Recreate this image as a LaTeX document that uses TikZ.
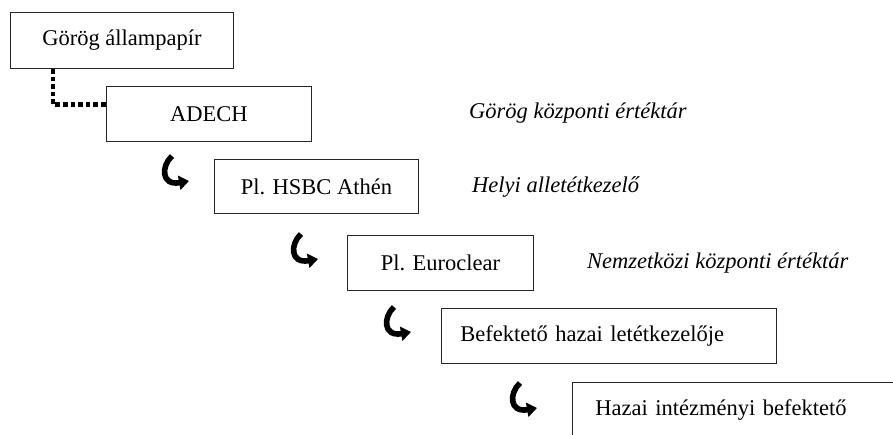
\documentclass[tikz,border=0pt]{standalone}
\usepackage{fontspec}
\setmainfont{Liberation Serif}
\usetikzlibrary{arrows.meta}
\tikzset{
  box/.style={draw=black!85, line width=0.9pt, anchor=north west, inner sep=0pt,
    font=\fontsize{22.5pt}{27pt}\selectfont},
  lbox/.style={box, align=left, inner xsep=19pt},
  lbl/.style={anchor=base west, inner sep=0pt,
    font=\fontsize{22.5pt}{27pt}\selectfont\itshape},
  dotline/.style={line width=4.6pt, dash pattern=on 4.6pt off 3pt},
  curvarrow/.pic={
    \draw[line width=5.6pt, -{Triangle[length=10pt,width=14pt]}]
      (11,1) .. controls (0,11) and (0,31) .. (28,26);
  }
}
\begin{document}
\begin{tikzpicture}[x=1pt,y=-1pt]
\useasboundingbox (0,0) rectangle (893,434);
\clip (0,0) rectangle (893,434);
\node[box, minimum width=223pt, minimum height=56pt] (g) at (10,12) {Görög állampapír};
\node[box, minimum width=205pt, minimum height=55pt] (adech) at (106,86) {ADECH};
\node[box, minimum width=204pt, minimum height=54pt] (hsbc) at (214,159) {Pl. HSBC Athén};
\node[box, minimum width=186pt, minimum height=55pt] (euro) at (347,235) {Pl. Euroclear};
\node[lbox, text width=297pt, minimum height=55pt] (bef) at (441,308) {Befektető hazai letétkezelője};
\node[lbox, inner xsep=23pt, text width=289pt, minimum height=55pt] (haz) at (572,382) {Hazai intézményi befektető};

\node[lbl] (l1) at (469,118) {Görög központi értéktár};
\node[lbl] (l2) at (472,192) {Helyi alletétkezelő};
\node[lbl] (l3) at (587,268) {Nemzetközi központi értéktár};

\draw[dotline] ([xshift=43pt]g.south west) |- ([yshift=-18.5pt]adech.north west);

\pic at (161,155) {curvarrow};
\pic at (290,233) {curvarrow};
\pic at (383,306) {curvarrow};
\pic at (509,382) {curvarrow};
\end{tikzpicture}
\end{document}
